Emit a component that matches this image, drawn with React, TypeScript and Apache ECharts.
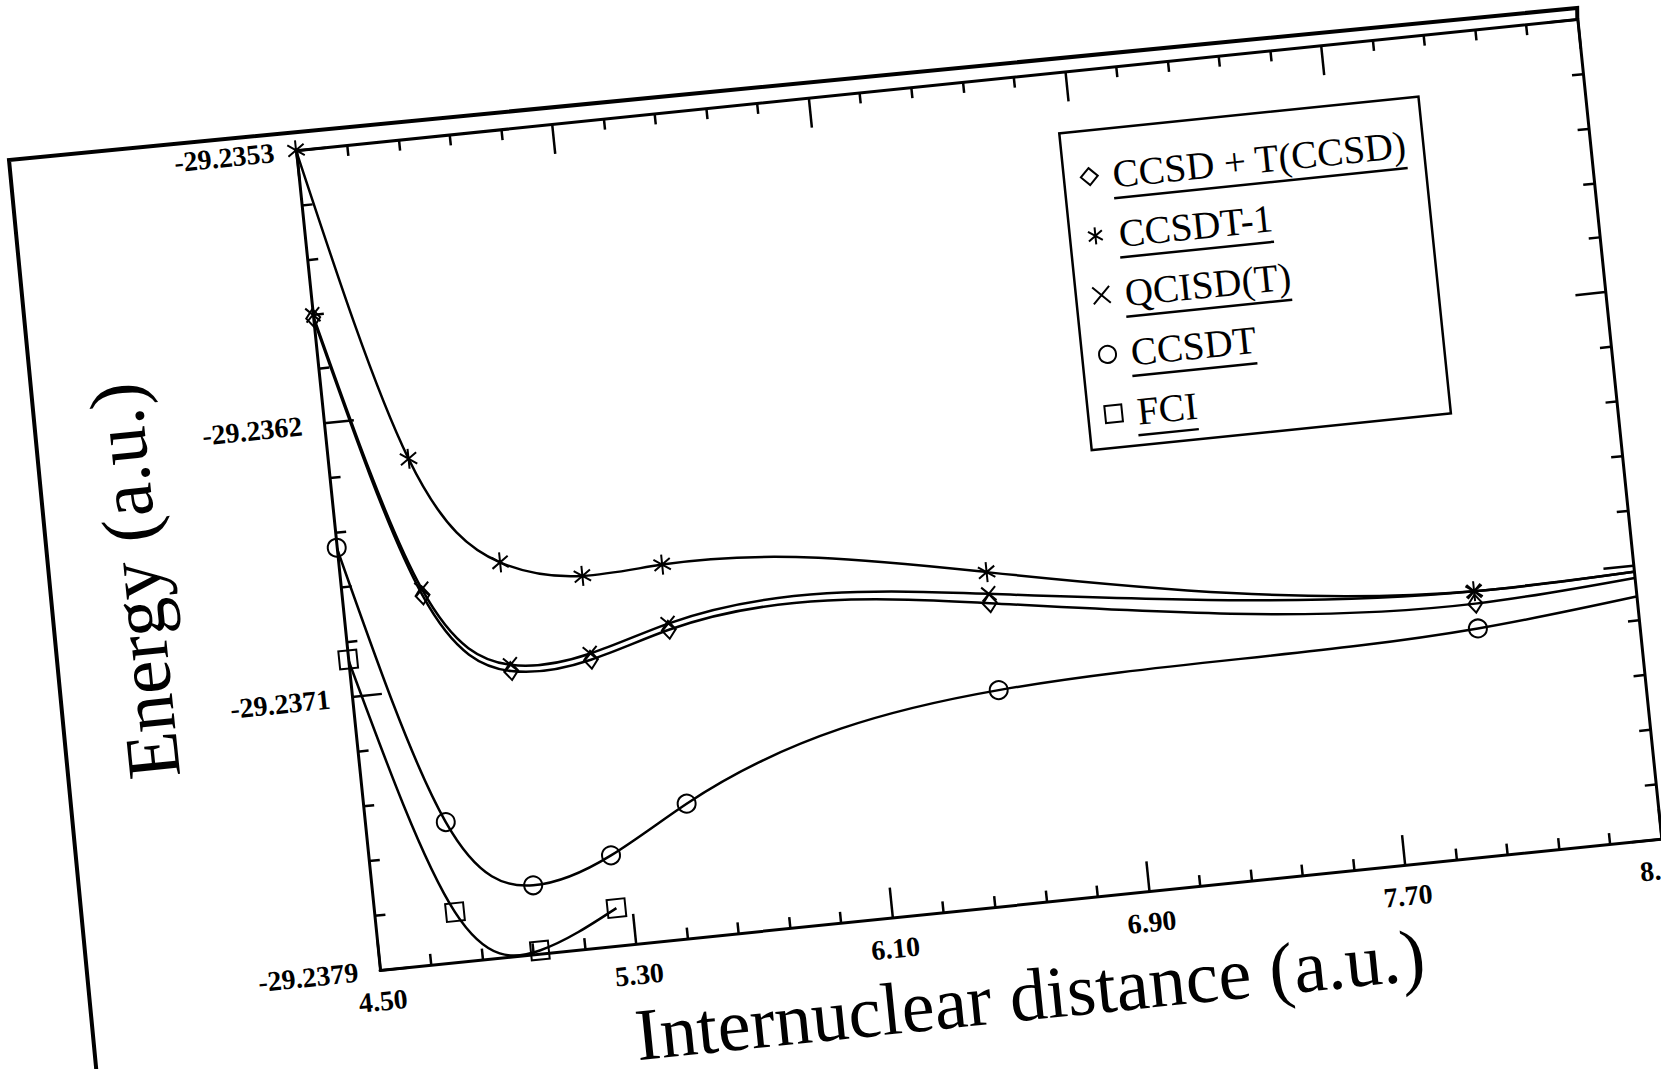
import React, { useEffect, useRef } from "react";
import * as echarts from "echarts";

// ---- data ----
const R_VALUES = [4.5, 4.75, 5.0, 5.25, 5.5, 6.5, 8.0, 8.5];
const R_FCI = [4.5, 4.75, 5.0, 5.25];
const E_CCSD_T_CCSD = [-29.23584, -29.23676, -29.23703, -29.23702, -29.23695, -29.23697, -29.23713, -29.2371];
const E_CCSDT_1 = [-29.2353, -29.23632, -29.23668, -29.23675, -29.23674, -29.23687, -29.23709, -29.23708];
const E_QCISD_T = [-29.23583, -29.23674, -29.23701, -29.237, -29.23693, -29.23694, -29.23709, -29.23708];
const E_CCSDT = [-29.23658, -29.23749, -29.23772, -29.23765, -29.23751, -29.23725, -29.23721, -29.23716];
const E_FCI = [-29.23694, -29.23778, -29.23793, -29.23782];

const SERIES_NAMES = ["CCSD + T(CCSD)", "CCSDT-1", "QCISD(T)", "CCSDT", "FCI"];
const X_TICK_LABELS = ["4.50", "5.30", "6.10", "6.90", "7.70", "8.50"];
const Y_TICK_LABELS = ["-29.2379", "-29.2371", "-29.2362", "-29.2353"];
const X_MIN = 4.5;
const X_MAX = 8.5;
const X_STEP = 0.8;
const Y_MIN = -29.23794;
const Y_MAX = -29.2353;
const Y_STEP = 0.00088;
const X_TITLE = "Internuclear distance (a.u.)";
const Y_TITLE = "Energy (a.u.)";

// ---- layout ----
const SERIF = '"Liberation Serif", "Times New Roman", serif';
const GL = 400;
const GT = 150;
const GW = 1288;
const GH = 824;
const CW = 1800;
const CH = 1250;
const ANGLE = -5.85;
const BL_PAGE_X = 380;
const BL_PAGE_Y = 970;

const LEG_LEFT = GL + 761;
const LEG_TOP = GT + 61;
const LEG_FONT = 39;
const LEG_LH = 40;
const LEG_GAP = 19.6;
const LEG_PAD = [26, 17, 14, 16];

const ASTERISK = "path://M10,0L10,20M1.8,4.3L18.2,15.7M1.8,15.7L18.2,4.3";
const CROSS = "path://M0,0L20,20M20,0L0,20";

const Y_SCALE = 1e5;
const yMinS = Math.round((Y_MIN - Y_MAX) * Y_SCALE);
const yIntS = Math.round(Y_STEP * Y_SCALE);

function toVal(r: number, e: number) {
  return [Math.round((r - X_MIN) * 1000) / 1000, Math.round((e - Y_MAX) * Y_SCALE * 1000) / 1000];
}

function pts(rs: number[], es: number[]) {
  return rs.map((r, i) => {
    const item: any = { value: toVal(r, es[i]) };
    if (r >= X_MAX) item.symbol = "none";
    return item;
  });
}

function measure(text: string, font: string) {
  const c = document.createElement("canvas").getContext("2d");
  if (!c) return text.length * 20;
  c.font = font;
  return c.measureText(text).width;
}

// natural cubic spline through pixel points, as cubic Bezier path data
function splinePath(p: number[][]) {
  const n = p.length;
  if (n < 2) return "";
  const h: number[] = [];
  const d: number[] = [];
  for (let i = 0; i < n - 1; i++) {
    h[i] = p[i + 1][0] - p[i][0];
    d[i] = (p[i + 1][1] - p[i][1]) / h[i];
  }
  const M = new Array(n).fill(0);
  if (n > 2) {
    const a: number[] = [];
    const b: number[] = [];
    const c: number[] = [];
    const r: number[] = [];
    for (let i = 1; i < n - 1; i++) {
      a.push(h[i - 1]);
      b.push(2 * (h[i - 1] + h[i]));
      c.push(h[i]);
      r.push(6 * (d[i] - d[i - 1]));
    }
    const m = b.length;
    for (let i = 1; i < m; i++) {
      const w = a[i] / b[i - 1];
      b[i] -= w * c[i - 1];
      r[i] -= w * r[i - 1];
    }
    const sol = new Array(m);
    sol[m - 1] = r[m - 1] / b[m - 1];
    for (let i = m - 2; i >= 0; i--) sol[i] = (r[i] - c[i] * sol[i + 1]) / b[i];
    for (let i = 0; i < m; i++) M[i + 1] = sol[i];
  }
  const s: number[] = [];
  for (let i = 0; i < n - 1; i++) s[i] = d[i] - (h[i] * (2 * M[i] + M[i + 1])) / 6;
  s[n - 1] = d[n - 2] + (h[n - 2] * (M[n - 2] + 2 * M[n - 1])) / 6;
  let path = `M${p[0][0]},${p[0][1]}`;
  for (let i = 0; i < n - 1; i++) {
    const [x0, y0] = p[i];
    const [x1, y1] = p[i + 1];
    const hh = h[i];
    path += `C${x0 + hh / 3},${y0 + (s[i] * hh) / 3},${x1 - hh / 3},${y1 - (s[i + 1] * hh) / 3},${x1},${y1}`;
  }
  return path;
}

export default function App() {
  const ref = useRef<HTMLDivElement>(null);

  useEffect(() => {
    if (!ref.current) return;
    const chart = echarts.init(ref.current, null, { renderer: "svg" });

    const tickLabel = {
      fontFamily: SERIF,
      fontSize: 28,
      fontWeight: "bold" as const,
      color: "#000",
    };
    const axisCommon = {
      type: "value" as const,
      axisLine: { show: true, onZero: false, lineStyle: { color: "#000", width: 3 } },
      axisTick: { show: true, inside: true, length: 30, lineStyle: { color: "#000", width: 2.5 } },
      minorTick: { show: true, splitNumber: 5, length: 11, lineStyle: { color: "#000", width: 2.5 } },
      splitLine: { show: false },
    };
    const xBase = { ...axisCommon, min: 0, max: X_MAX - X_MIN, interval: X_STEP };
    const yBase = { ...axisCommon, min: yMinS, max: 0, interval: yIntS };

    const xFmt = (v: number) => X_TICK_LABELS[Math.round(v / X_STEP)] ?? "";
    const yFmt = (v: number) => Y_TICK_LABELS[Math.round((v - yMinS) / yIntS)] ?? "";

    const markerCommon = {
      type: "line" as const,
      symbolKeepAspect: true,
      lineStyle: { color: "#000", width: 0, opacity: 0 },
      itemStyle: { color: "rgba(0,0,0,0)", borderColor: "#000", borderWidth: 2 },
      emphasis: { disabled: true },
      clip: true,
      z: 3,
    };

    const curveSets: [number[], number[]][] = [
      [R_VALUES, E_CCSD_T_CCSD],
      [R_VALUES, E_CCSDT_1],
      [R_VALUES, E_QCISD_T],
      [R_VALUES, E_CCSDT],
      [R_FCI, E_FCI],
    ];

    const curves = curveSets.map(([rs, es], k) => {
      const vals = rs.map((r, i) => toVal(r, es[i]));
      return {
        type: "custom" as const,
        id: "curve" + k,
        coordinateSystem: "cartesian2d",
        xAxisIndex: 0,
        yAxisIndex: 0,
        data: vals,
        clip: true,
        silent: true,
        z: 2,
        renderItem: (params: any, api: any) => {
          if (params.dataIndex !== 0) return null;
          const px = vals.map((v) => api.coord(v));
          return {
            type: "path",
            shape: { pathData: splinePath(px) },
            style: { stroke: "#000", lineWidth: 2.5, fill: "none" },
          };
        },
      };
    });

    const markers = [
      { ...markerCommon, name: SERIES_NAMES[0], data: pts(R_VALUES, E_CCSD_T_CCSD), symbol: "diamond", symbolSize: [14, 18] },
      { ...markerCommon, name: SERIES_NAMES[1], data: pts(R_VALUES, E_CCSDT_1), symbol: ASTERISK, symbolSize: 20 },
      { ...markerCommon, name: SERIES_NAMES[2], data: pts(R_VALUES, E_QCISD_T), symbol: CROSS, symbolSize: 14 },
      { ...markerCommon, name: SERIES_NAMES[3], data: pts(R_VALUES, E_CCSDT), symbol: "circle", symbolSize: 18 },
      { ...markerCommon, name: SERIES_NAMES[4], data: pts(R_FCI, E_FCI), symbol: "rect", symbolSize: 18 },
    ];

    const legIcons = ["diamond", ASTERISK, CROSS, "circle", "rect"];
    const legFont = `${LEG_FONT}px "Liberation Serif"`;
    const textX = LEG_LEFT + LEG_PAD[3] + 17 + 5 + 10;
    const underlines = SERIES_NAMES.map((n, i) => {
      const y = LEG_TOP + LEG_PAD[0] + LEG_LH / 2 + 24 + i * (LEG_LH + LEG_GAP);
      return {
        type: "line",
        shape: { x1: textX, y1: y, x2: textX + measure(n, legFont), y2: y },
        style: { stroke: "#000", lineWidth: 2.5 },
        z: 100,
      };
    });

    const BLY = GT + GH;
    const frame = {
      type: "polyline",
      shape: {
        points: [
          [GL - 293.5, BLY + 240],
          [GL - 286.5, BLY - 843.6],
          [GL + GW + 1, BLY - 835],
          [GL + GW, GT],
        ],
      },
      style: { stroke: "#000", lineWidth: 4, fill: "none" },
      z: 50,
    };

    chart.setOption({
      animation: false,
      backgroundColor: "#fff",
      grid: { left: GL, top: GT, width: GW, height: GH, containLabel: false },
      xAxis: [
        {
          ...xBase,
          position: "bottom",
          axisLabel: { ...tickLabel, margin: 17, formatter: xFmt },
          name: X_TITLE,
          nameLocation: "middle",
          nameGap: 54,
          nameTextStyle: { fontFamily: SERIF, fontSize: 74, lineHeight: 74, color: "#000" },
        },
        { ...xBase, position: "top", axisLabel: { show: false } },
      ],
      yAxis: [
        {
          ...yBase,
          position: "left",
          axisLabel: { ...tickLabel, margin: 22, formatter: yFmt },
          name: Y_TITLE,
          nameLocation: "middle",
          nameGap: 167,
          nameTextStyle: { fontFamily: SERIF, fontSize: 76, lineHeight: 76, color: "#000" },
        },
        { ...yBase, position: "right", axisLabel: { show: false } },
      ],
      legend: {
        orient: "vertical",
        left: LEG_LEFT,
        top: LEG_TOP,
        padding: LEG_PAD,
        itemGap: LEG_GAP,
        itemWidth: 17,
        itemHeight: 17,
        borderColor: "#000",
        borderWidth: 2.5,
        borderRadius: 0,
        backgroundColor: "#fff",
        selectedMode: false,
        textStyle: { fontFamily: SERIF, fontSize: LEG_FONT, lineHeight: LEG_LH, color: "#000", padding: [0, 0, 0, 10] },
        data: SERIES_NAMES.map((n, i) => ({ name: n, icon: legIcons[i] })),
      },
      graphic: [frame, ...underlines],
      series: [...curves, ...markers],
    });

    return () => chart.dispose();
  }, []);

  return (
    <div
      style={{
        position: "fixed",
        left: 0,
        top: 0,
        width: "100vw",
        height: "100vh",
        overflow: "hidden",
        background: "#fff",
      }}
    >
      <div
        ref={ref}
        style={{
          position: "absolute",
          left: BL_PAGE_X - GL,
          top: BL_PAGE_Y - (GT + GH),
          width: CW,
          height: CH,
          transform: `rotate(${ANGLE}deg)`,
          transformOrigin: `${GL}px ${GT + GH}px`,
        }}
      />
    </div>
  );
}
